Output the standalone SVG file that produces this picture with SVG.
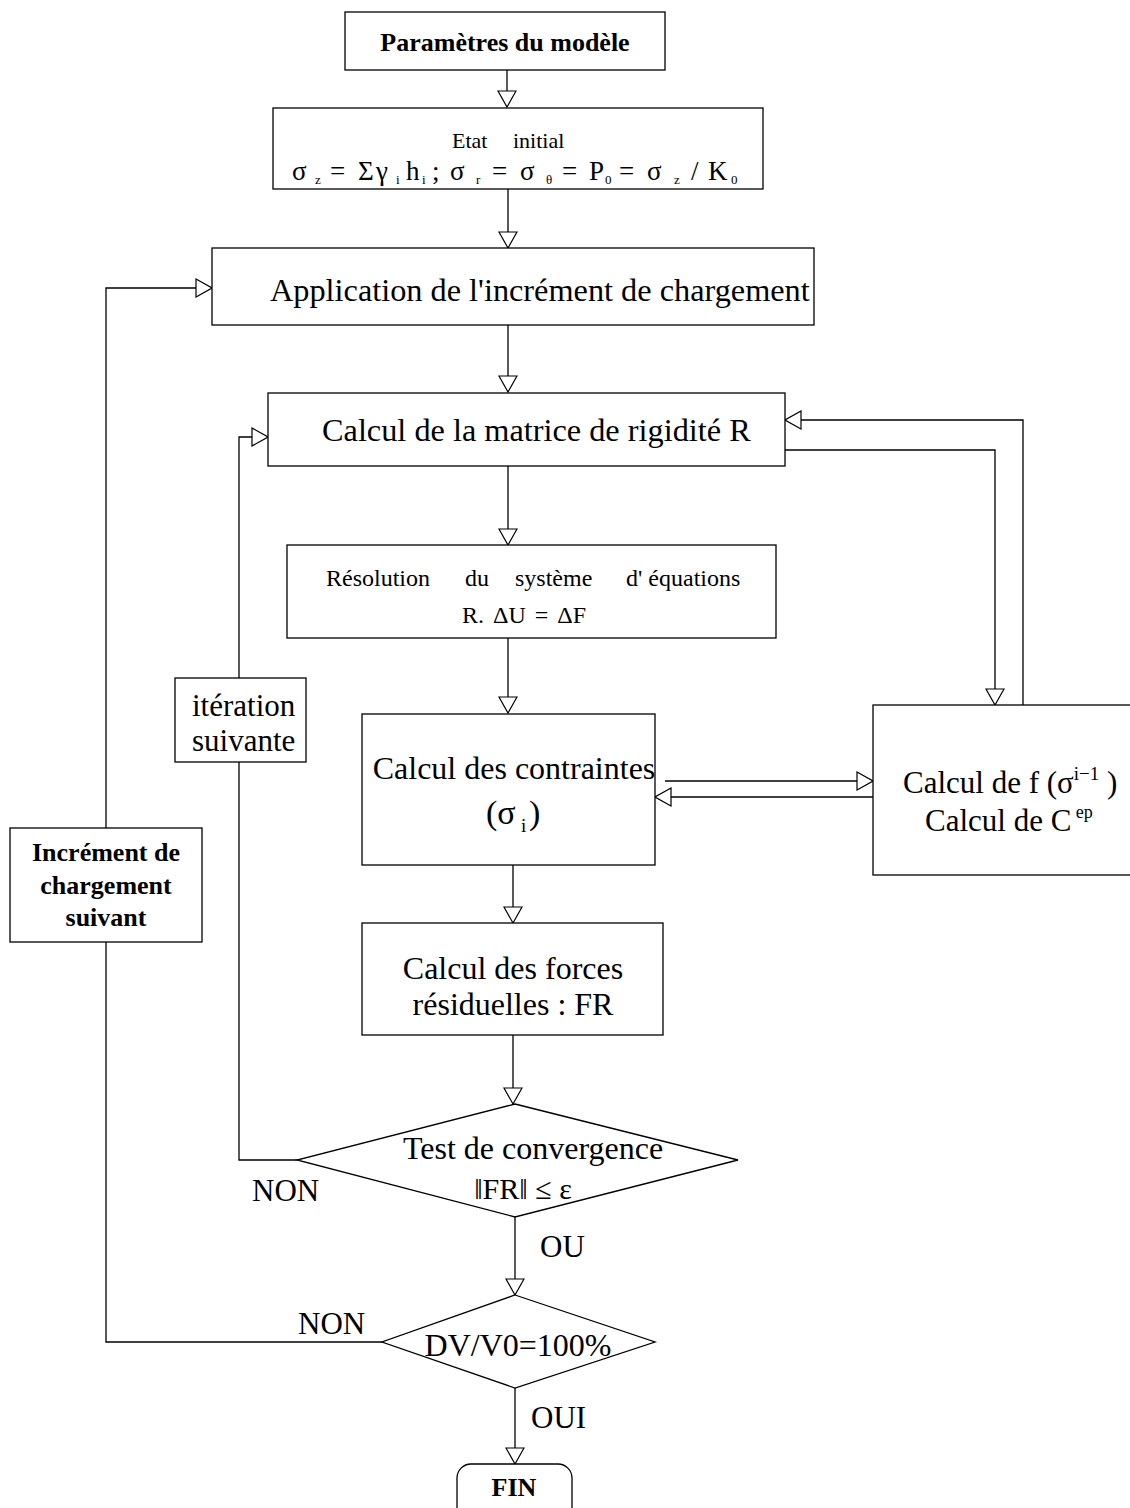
<svg xmlns="http://www.w3.org/2000/svg" width="1130" height="1508" viewBox="0 0 1130 1508">
<style>
.box{fill:#fff;stroke:#000;stroke-width:1.3}
.ln{fill:none;stroke:#000;stroke-width:1.3}
text{font-family:"Liberation Serif","Times New Roman",serif;fill:#000}
.b{font-weight:bold}
.m{text-anchor:middle}
</style>
<defs>
<marker id="ah" viewBox="0 0 18 20" refX="17" refY="10" markerWidth="18" markerHeight="20" markerUnits="userSpaceOnUse" orient="auto">
<path d="M1,1 L17,10 L1,19 Z" fill="#fff" stroke="#000" stroke-width="1.2"/>
</marker>
</defs>
<g id="connectors">
<path class="ln" d="M507,70 V107" marker-end="url(#ah)"/>
<path class="ln" d="M508,189 V248" marker-end="url(#ah)"/>
<path class="ln" d="M508,325 V392" marker-end="url(#ah)"/>
<path class="ln" d="M508,466 V545" marker-end="url(#ah)"/>
<path class="ln" d="M508,638 V713" marker-end="url(#ah)"/>
<path class="ln" d="M513,865 V923" marker-end="url(#ah)"/>
<path class="ln" d="M513,1035 V1104" marker-end="url(#ah)"/>
<path class="ln" d="M515,1217 V1295" marker-end="url(#ah)"/>
<path class="ln" d="M515,1388 V1464" marker-end="url(#ah)"/>
<path class="ln" d="M297,1160 H239 V437 H268" marker-end="url(#ah)"/>
<path class="ln" d="M382,1342 H106 V288 H212" marker-end="url(#ah)"/>
<path class="ln" d="M665,781 H873" marker-end="url(#ah)"/>
<path class="ln" d="M873,797 H655" marker-end="url(#ah)"/>
<path class="ln" d="M785,450 H995 V705" marker-end="url(#ah)"/>
<path class="ln" d="M1023,705 V420 H785" marker-end="url(#ah)"/>
</g>
<g id="n-parametres">
<rect class="box" x="345" y="12" width="320" height="58"/>
<text class="b m" x="505" y="51" font-size="26">Paramètres du modèle</text>
</g>
<g id="n-etat">
<rect class="box" x="273" y="108" width="490" height="81"/>
<text x="452" y="148" font-size="22">Etat</text>
<text x="513" y="148" font-size="22">initial</text>
<g font-size="27">
<text x="292" y="180">σ</text><text x="315" y="184" font-size="13">z</text>
<text x="330" y="180">=</text><text x="358" y="180">Σ</text><text x="376" y="180">γ</text><text x="396" y="184" font-size="13">i</text>
<text x="406" y="180">h</text><text x="422" y="184" font-size="13">i</text><text x="432" y="180">;</text>
<text x="450" y="180">σ</text><text x="476" y="184" font-size="13">r</text>
<text x="492" y="180">=</text><text x="520" y="180">σ</text><text x="546" y="184" font-size="13">θ</text>
<text x="562" y="180">=</text><text x="589" y="180">P</text><text x="605" y="184" font-size="13">0</text>
<text x="619" y="180">=</text><text x="647" y="180">σ</text><text x="674" y="184" font-size="13">z</text>
<text x="691" y="180">/</text><text x="708" y="180">K</text><text x="731" y="184" font-size="13">0</text>
</g>
</g>
<g id="n-application">
<rect class="box" x="212" y="248" width="602" height="77"/>
<text x="270" y="301" font-size="32.3">Application de l'incrément de chargement</text>
</g>
<g id="n-matrice">
<rect class="box" x="268" y="393" width="517" height="73"/>
<text x="322" y="441" font-size="32.3">Calcul de la matrice de rigidité R</text>
</g>
<g id="n-resolution">
<rect class="box" x="287" y="545" width="489" height="93"/>
<text font-size="24" y="586"><tspan x="326">Résolution</tspan><tspan x="465">du</tspan><tspan x="515">système</tspan><tspan x="626">d' équations</tspan></text>
<text class="m" x="524" y="623" font-size="24" word-spacing="3">R. ΔU = ΔF</text>
</g>
<g id="n-contraintes">
<rect class="box" x="362" y="714" width="293" height="151"/>
<text class="m" x="514" y="779" font-size="32">Calcul des contraintes</text>
<text x="486" y="824" font-size="34">(σ</text><text x="521" y="832" font-size="19">i</text><text x="529" y="824" font-size="34">)</text>
</g>
<g id="n-f">
<rect class="box" x="873" y="705" width="260" height="170"/>
<text x="903" y="793" font-size="31">Calcul de f (σ<tspan font-size="19" dy="-13">i−1</tspan><tspan dy="13"> )</tspan></text>
<text x="925" y="831" font-size="31">Calcul de C<tspan font-size="18" dy="-13"> ep</tspan></text>
</g>
<g id="n-forces">
<rect class="box" x="362" y="923" width="301" height="112"/>
<text class="m" x="513" y="979" font-size="32">Calcul des forces</text>
<text class="m" x="513" y="1015" font-size="32">résiduelles : FR</text>
</g>
<g id="n-test">
<polygon class="box" points="515,1104 738,1160 515,1217 297,1160"/>
<text class="m" x="533" y="1159" font-size="32">Test de convergence</text>
<text class="m" x="523" y="1199" font-size="30">‖FR‖ ≤ ε</text>
</g>
<g id="n-iteration">
<rect class="box" x="175" y="678" width="131" height="84"/>
<text x="192" y="716" font-size="31">itération</text>
<text x="192" y="751" font-size="31">suivante</text>
</g>
<g id="n-increment">
<rect class="box" x="10" y="828" width="192" height="114"/>
<text class="b m" x="106" y="861" font-size="26">Incrément de</text>
<text class="b m" x="106" y="894" font-size="26">chargement</text>
<text class="b m" x="106" y="926" font-size="26">suivant</text>
</g>
<g id="n-dv">
<polygon class="box" points="515,1295 655,1342 515,1388 382,1342"/>
<text class="m" x="518" y="1356" font-size="32">DV/V0=100%</text>
</g>
<g id="n-fin">
<rect class="box" x="457" y="1464" width="115" height="60" rx="14"/>
<text class="b m" x="514" y="1496" font-size="26">FIN</text>
</g>
<g id="labels">
<text x="252" y="1201" font-size="31">NON</text>
<text x="540" y="1257" font-size="31">OU</text>
<text x="298" y="1334" font-size="31">NON</text>
<text x="531" y="1428" font-size="31">OUI</text>
</g>
</svg>
